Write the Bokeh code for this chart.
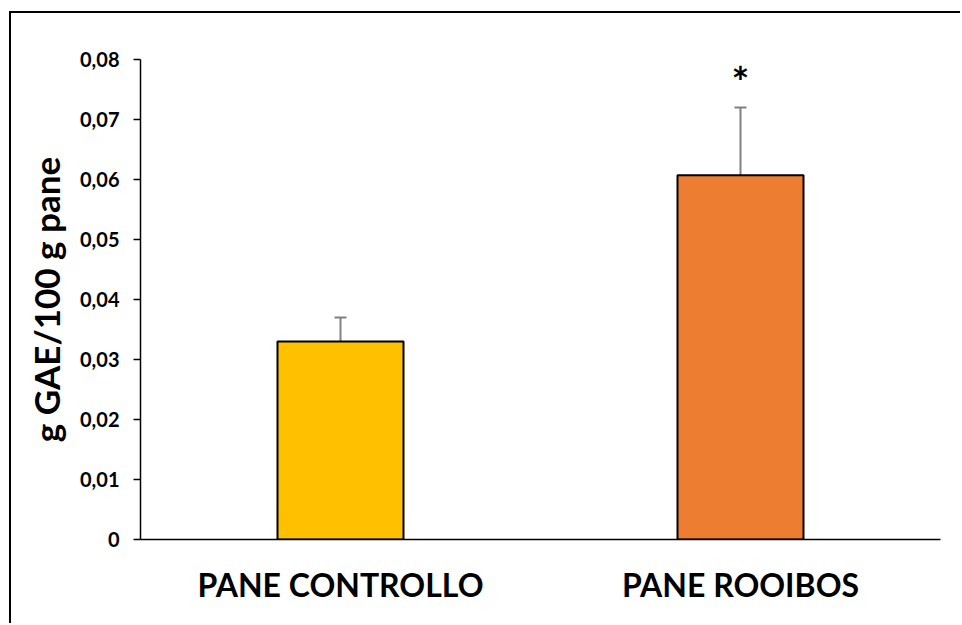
from bokeh.plotting import figure
from bokeh.models import (ColumnDataSource, FactorRange, Range1d, FixedTicker,
                          CustomJSTickFormatter, Whisker, TeeHead)
from bokeh.core.properties import value
from bokeh.embed import file_html
from bokeh.resources import INLINE

# Total polyphenols (g GAE per 100 g of bread), mean and upper error
categories = ["PANE CONTROLLO", "PANE ROOIBOS"]
means = [0.033, 0.0607]
errors = [0.004, 0.0113]
significance = ["", "*"]
bar_colors = ["#FFC000", "#ED7D31"]
y_ticks = [0.0, 0.01, 0.02, 0.03, 0.04, 0.05, 0.06, 0.07, 0.08]
y_tick_labels = ["0", "0,01", "0,02", "0,03", "0,04", "0,05", "0,06", "0,07", "0,08"]
y_title = "g GAE/100 g pane"

FONT = "Lato"

source = ColumnDataSource(dict(
    cat=categories,
    mean=means,
    upper=[m + e for m, e in zip(means, errors)],
    color=bar_colors,
    sig=significance,
))

p = figure(
    x_range=FactorRange(*categories),
    y_range=Range1d(0, 0.08),
    width=951, height=612,
    output_backend="svg", toolbar_location=None,
    min_border_left=129, min_border_right=22,
    min_border_top=46, min_border_bottom=86,
)
# chart-area frame (left and top edges)
p.styles = {
    "margin-left": "9px", "margin-top": "11px",
    "border-left": "2px solid black", "border-top": "2px solid black",
}
p.outline_line_color = None
p.xgrid.grid_line_color = None
p.ygrid.grid_line_color = None
p.background_fill_color = "white"
p.border_fill_color = "white"

p.vbar(x="cat", top="mean", width=0.315, source=source,
       fill_color="color", line_color="black", line_width=2)

err = Whisker(base="cat", lower="mean", upper="upper", source=source,
              lower_head=None,
              upper_head=TeeHead(size=12, line_color="#808080", line_width=2),
              line_color="#808080", line_width=2)
p.add_layout(err)

# significance marker above the error bar
p.text(x="cat", y="upper", text="sig", source=source,
       text_font=value(FONT), text_font_style="bold", text_font_size="42px",
       text_align="center", text_baseline="alphabetic", y_offset=-26,
       text_color="black")

# y axis
p.yaxis.ticker = FixedTicker(ticks=y_ticks)
p.yaxis.formatter = CustomJSTickFormatter(args=dict(labels=y_tick_labels),
                                          code="return labels[index];")
p.yaxis.minor_tick_line_color = None
p.yaxis.major_tick_in = 0
p.yaxis.major_tick_out = 7
p.yaxis.major_tick_line_width = 1.5
p.yaxis.axis_line_width = 1.5
p.yaxis.axis_line_color = "black"
p.yaxis.major_tick_line_color = "black"
p.yaxis.major_label_text_font = FONT
p.yaxis.major_label_text_font_style = "bold"
p.yaxis.major_label_text_font_size = "20px"
p.yaxis.major_label_text_color = "black"
p.yaxis.major_label_standoff = 14
p.yaxis.axis_label = y_title
p.yaxis.axis_label_text_font = FONT
p.yaxis.axis_label_text_font_style = "bold"
p.yaxis.axis_label_text_font_size = "35px"
p.yaxis.axis_label_text_color = "black"
p.yaxis.axis_label_standoff = 10

# x axis
p.xaxis.major_tick_line_color = None
p.xaxis.minor_tick_line_color = None
p.xaxis.axis_line_width = 1.5
p.xaxis.axis_line_color = "black"
p.xaxis.major_label_text_font = FONT
p.xaxis.major_label_text_font_style = "bold"
p.xaxis.major_label_text_font_size = "32px"
p.xaxis.major_label_text_color = "black"
p.xaxis.major_label_standoff = 19

open("out.html", "w").write(file_html(p, INLINE))
